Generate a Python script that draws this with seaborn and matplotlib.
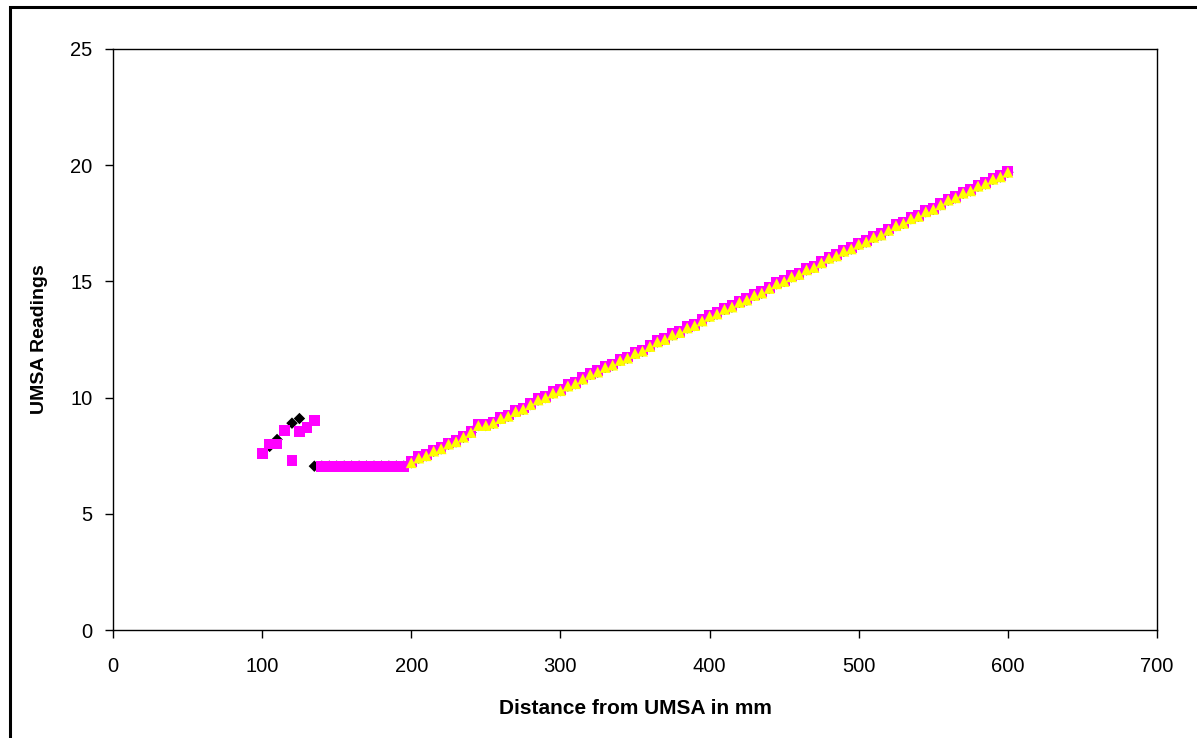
import matplotlib
matplotlib.use("Agg")
import matplotlib.pyplot as plt
import seaborn as sns
import pandas as pd
from matplotlib.patches import Rectangle

# ---- data ----
early_x = [100, 105, 110, 115, 120, 125, 130, 135]
early_sq = [7.6, 8.0, 8.0, 8.6, 7.3, 8.55, 8.7, 9.0]
flat_x = [140, 145, 150, 155, 160, 165, 170, 175, 180, 185, 190, 195]
flat_sq = [7.05] * 12
lin_x = list(range(200, 605, 5))
lin_vals = [7.2, 7.4, 7.5, 7.7, 7.8, 8.0, 8.1, 8.3, 8.5, 8.8,
            8.8, 8.9, 9.1, 9.2, 9.4, 9.5, 9.7, 9.9, 10.0, 10.2,
            10.3, 10.5, 10.6, 10.8, 11.0, 11.1, 11.3, 11.4, 11.6, 11.7,
            11.9, 12.0, 12.2, 12.4, 12.5, 12.7, 12.8, 13.0, 13.1, 13.3,
            13.5, 13.6, 13.8, 13.9, 14.1, 14.2, 14.4, 14.5, 14.7, 14.9,
            15.0, 15.2, 15.3, 15.5, 15.6, 15.8, 16.0, 16.1, 16.3, 16.4,
            16.6, 16.7, 16.9, 17.0, 17.2, 17.4, 17.5, 17.7, 17.8, 18.0,
            18.1, 18.3, 18.5, 18.6, 18.8, 18.9, 19.1, 19.2, 19.4, 19.5,
            19.7]
dia_early_x = [105, 110, 120, 125, 135]
dia_early_y = [7.9, 8.2, 8.9, 9.1, 7.05]

x_ticks = [0, 100, 200, 300, 400, 500, 600, 700]
y_ticks = [0, 5, 10, 15, 20, 25]

diamonds = pd.DataFrame({"x": dia_early_x + flat_x + lin_x,
                         "y": dia_early_y + flat_sq + lin_vals})
squares = pd.DataFrame({"x": early_x + flat_x + lin_x,
                        "y": early_sq + flat_sq + [v + 0.05 for v in lin_vals]})
triangles = pd.DataFrame({"x": lin_x, "y": lin_vals})

sns.set_theme(style="white")
plt.rcParams["font.family"] = ["Liberation Sans", "DejaVu Sans"]
plt.rcParams["text.color"] = "black"
plt.rcParams["axes.labelcolor"] = "black"

fig = plt.figure(figsize=(11.97, 7.38), dpi=100)
ax = fig.add_axes([113 / 1197, 1 - 630 / 738, (1157 - 113) / 1197, (630 - 49) / 738])

sns.scatterplot(data=diamonds, x="x", y="y", marker="D", s=34, color="black",
                edgecolor="none", ax=ax, zorder=3)
sns.scatterplot(data=squares, x="x", y="y", marker="s", s=60, color="#FF00FF",
                edgecolor="none", ax=ax, zorder=4)
sns.scatterplot(data=triangles, x="x", y="y", marker="^", s=62, color="#FFFF00",
                edgecolor="none", ax=ax, zorder=5)

ax.set_xlim(0, 700)
ax.set_ylim(0, 25)
ax.set_xticks(x_ticks)
ax.set_yticks(y_ticks)
ax.tick_params(axis="both", direction="out", length=5.8, width=1, color="black",
               labelsize=14.5, labelcolor="black", bottom=True, left=True)
ax.tick_params(axis="x", pad=14)
ax.tick_params(axis="y", pad=9)
for sp in ax.spines.values():
    sp.set_visible(True)
    sp.set_color("black")
    sp.set_linewidth(1.0)

ax.set_xlabel("Distance from UMSA in mm", fontsize=15, fontweight="bold",
              labelpad=16, color="black")
ax.set_ylabel("UMSA Readings", fontsize=14, fontweight="bold", labelpad=16,
              color="black")

fig.patches.append(Rectangle((9.5 / 1197, -0.1), 1.2, 1 - 7 / 738 + 0.1,
                             transform=fig.transFigure, fill=False,
                             edgecolor="black", linewidth=2.2))

fig.savefig("out.png", dpi=100)
